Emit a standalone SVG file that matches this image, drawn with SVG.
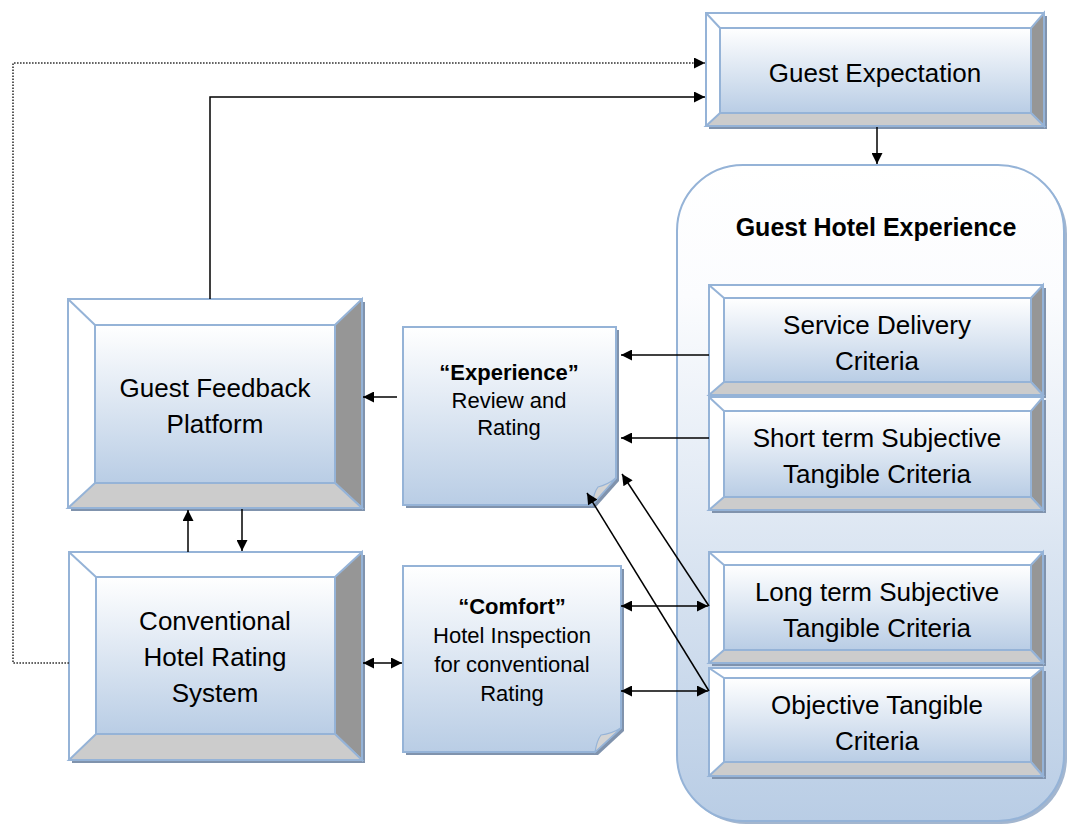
<svg xmlns="http://www.w3.org/2000/svg" width="1068" height="829" viewBox="0 0 1068 829">
<style>
.t{font-family:"Liberation Sans",Arial,sans-serif;font-size:26px;fill:#000;text-anchor:middle}
.n{font-family:"Liberation Sans",Arial,sans-serif;font-size:22px;fill:#000;text-anchor:middle}
.b{font-weight:bold}
.ol{stroke:#95b3d7;stroke-width:2;stroke-linejoin:miter}
.sh{fill:#8093ad}
.hi{fill:#ffffff}
.rt{fill:#969696}
.bt{fill:#cccccc}
.c{fill:none;stroke:#000;stroke-width:1.5}
.d{fill:none;stroke:#333;stroke-width:1.6;stroke-dasharray:1.6 1.4}
</style>
<defs>
<linearGradient id="face" x1="0" y1="0" x2="0" y2="1">
<stop offset="0" stop-color="#ffffff"/>
<stop offset="1" stop-color="#b9cde5"/>
</linearGradient>
<linearGradient id="cont" x1="0" y1="0" x2="0" y2="1">
<stop offset="0" stop-color="#ffffff"/>
<stop offset="0.2" stop-color="#fbfcfe"/>
<stop offset="1" stop-color="#b9cde5"/>
</linearGradient>
<marker id="ah" viewBox="0 0 10 10" refX="10" refY="5" markerWidth="13" markerHeight="11" markerUnits="userSpaceOnUse" orient="auto-start-reverse">
<path d="M0,0 L10,5 L0,10 z" fill="#000"/>
</marker>
</defs>

<g id="guest-hotel-experience">
<rect x="680" y="168" width="387" height="656" rx="66" ry="66" fill="#a3b6cf"/>
<rect x="677" y="165" width="387" height="656" rx="66" ry="66" fill="url(#cont)" class="ol"/>
<text class="t b" x="876" y="236" style="font-size:25px">Guest Hotel Experience</text>
</g>

<g id="guest-expectation">
<rect class="sh" x="709" y="16" width="338" height="113"/>
<rect class="hi ol" x="706" y="13" width="338" height="113"/>
<polygon class="rt ol" points="1044,13 1044,126 1031,113 1031,28"/>
<polygon class="bt ol" points="706,126 1044,126 1031,113 720,113"/>
<line class="ol" x1="706" y1="13" x2="720" y2="28"/>
<rect x="720" y="28" width="311" height="85" fill="url(#face)" class="ol"/>
<text class="t" x="875" y="82">Guest Expectation</text>
</g>

<g id="guest-feedback-platform">
<rect class="sh" x="71" y="302" width="294" height="209"/>
<rect class="hi ol" x="68" y="299" width="294" height="209"/>
<polygon class="rt ol" points="362,299 362,508 335,483 335,325"/>
<polygon class="bt ol" points="68,508 362,508 335,483 95,483"/>
<line class="ol" x1="68" y1="299" x2="95" y2="325"/>
<rect x="95" y="325" width="240" height="158" fill="url(#face)" class="ol"/>
<text class="t" x="215" y="397">Guest Feedback</text>
<text class="t" x="215" y="433">Platform</text>
</g>

<g id="conventional-hotel-rating-system">
<rect class="sh" x="72" y="555" width="293" height="208"/>
<rect class="hi ol" x="69" y="552" width="293" height="208"/>
<polygon class="rt ol" points="362,552 362,760 335,734 335,577"/>
<polygon class="bt ol" points="69,760 362,760 335,734 96,734"/>
<line class="ol" x1="69" y1="552" x2="96" y2="577"/>
<rect x="96" y="577" width="239" height="157" fill="url(#face)" class="ol"/>
<text class="t" x="215" y="630">Conventional</text>
<text class="t" x="215" y="666">Hotel Rating</text>
<text class="t" x="215" y="702">System</text>
</g>

<g id="experience-review">
<path class="sh" d="M406,330 H619 V481 L595,508 H406 Z"/>
<path d="M403,327 H616 V478 L592,505 H403 Z" fill="url(#face)" class="ol"/>
<path d="M616,478 L592,505 Q594,492 598,487 Q607,485 616,478 Z" fill="#d4d4d4" class="ol" style="stroke-width:1.2"/>
<text class="n b" x="509" y="380">“Experience”</text>
<text class="n" x="509" y="408">Review and</text>
<text class="n" x="509" y="435">Rating</text>
</g>

<g id="comfort-inspection">
<path class="sh" d="M406,569 H624 V731 L598,755 H406 Z"/>
<path d="M403,566 H621 V728 L595,752 H403 Z" fill="url(#face)" class="ol"/>
<path d="M621,728 L595,752 Q597,740 601,735 Q611,734 621,728 Z" fill="#d4d4d4" class="ol" style="stroke-width:1.2"/>
<text class="n b" x="512" y="614">“Comfort”</text>
<text class="n" x="512" y="643">Hotel Inspection</text>
<text class="n" x="512" y="672">for conventional</text>
<text class="n" x="512" y="701">Rating</text>
</g>

<g id="service-delivery">
<rect class="sh" x="712" y="288" width="334" height="110"/>
<rect class="hi ol" x="709" y="285" width="334" height="110"/>
<polygon class="rt ol" points="1043,285 1043,395 1031,382 1031,298"/>
<polygon class="bt ol" points="709,395 1043,395 1031,382 724,382"/>
<line class="ol" x1="709" y1="285" x2="724" y2="298"/>
<rect x="724" y="298" width="307" height="84" fill="url(#face)" class="ol"/>
<text class="t" x="877" y="334">Service Delivery</text>
<text class="t" x="877" y="370">Criteria</text>
</g>

<g id="short-term">
<rect class="sh" x="712" y="400" width="334" height="113"/>
<rect class="hi ol" x="709" y="397" width="334" height="113"/>
<polygon class="rt ol" points="1043,397 1043,510 1031,497 1031,411"/>
<polygon class="bt ol" points="709,510 1043,510 1031,497 724,497"/>
<line class="ol" x1="709" y1="397" x2="724" y2="411"/>
<rect x="724" y="411" width="307" height="86" fill="url(#face)" class="ol"/>
<text class="t" x="877" y="447">Short term Subjective</text>
<text class="t" x="877" y="483">Tangible Criteria</text>
</g>

<g id="long-term">
<rect class="sh" x="712" y="555" width="334" height="111"/>
<rect class="hi ol" x="709" y="552" width="334" height="111"/>
<polygon class="rt ol" points="1043,552 1043,663 1031,650 1031,565"/>
<polygon class="bt ol" points="709,663 1043,663 1031,650 724,650"/>
<line class="ol" x1="709" y1="552" x2="724" y2="565"/>
<rect x="724" y="565" width="307" height="85" fill="url(#face)" class="ol"/>
<text class="t" x="877" y="601">Long term Subjective</text>
<text class="t" x="877" y="637">Tangible Criteria</text>
</g>

<g id="objective">
<rect class="sh" x="712" y="671" width="334" height="108"/>
<rect class="hi ol" x="709" y="668" width="334" height="108"/>
<polygon class="rt ol" points="1043,668 1043,776 1031,762 1031,678"/>
<polygon class="bt ol" points="709,776 1043,776 1031,762 724,762"/>
<line class="ol" x1="709" y1="668" x2="724" y2="678"/>
<rect x="724" y="678" width="307" height="84" fill="url(#face)" class="ol"/>
<text class="t" x="877" y="714">Objective Tangible</text>
<text class="t" x="877" y="750">Criteria</text>
</g>

<g id="connectors">
<path class="d" d="M69,663 H13 V63 H705" marker-end="url(#ah)"/>
<path class="c" d="M210,299 V97 H705" marker-end="url(#ah)"/>
<path class="c" d="M877,127 V164" marker-end="url(#ah)"/>
<path class="c" d="M709,355 H621" marker-end="url(#ah)"/>
<path class="c" d="M709,438 H621" marker-end="url(#ah)"/>
<path class="c" d="M397,397 H363" marker-end="url(#ah)"/>
<path class="c" d="M621,606 H708" marker-start="url(#ah)" marker-end="url(#ah)"/>
<path class="c" d="M621,691 H708" marker-start="url(#ah)" marker-end="url(#ah)"/>
<path class="c" d="M709,606 L622,474" marker-end="url(#ah)"/>
<path class="c" d="M709,691 L587,493" marker-end="url(#ah)"/>
<path class="c" d="M363,663 H402" marker-start="url(#ah)" marker-end="url(#ah)"/>
<path class="c" d="M188,552 V510" marker-end="url(#ah)"/>
<path class="c" d="M242,509 V551" marker-end="url(#ah)"/>
</g>
</svg>
